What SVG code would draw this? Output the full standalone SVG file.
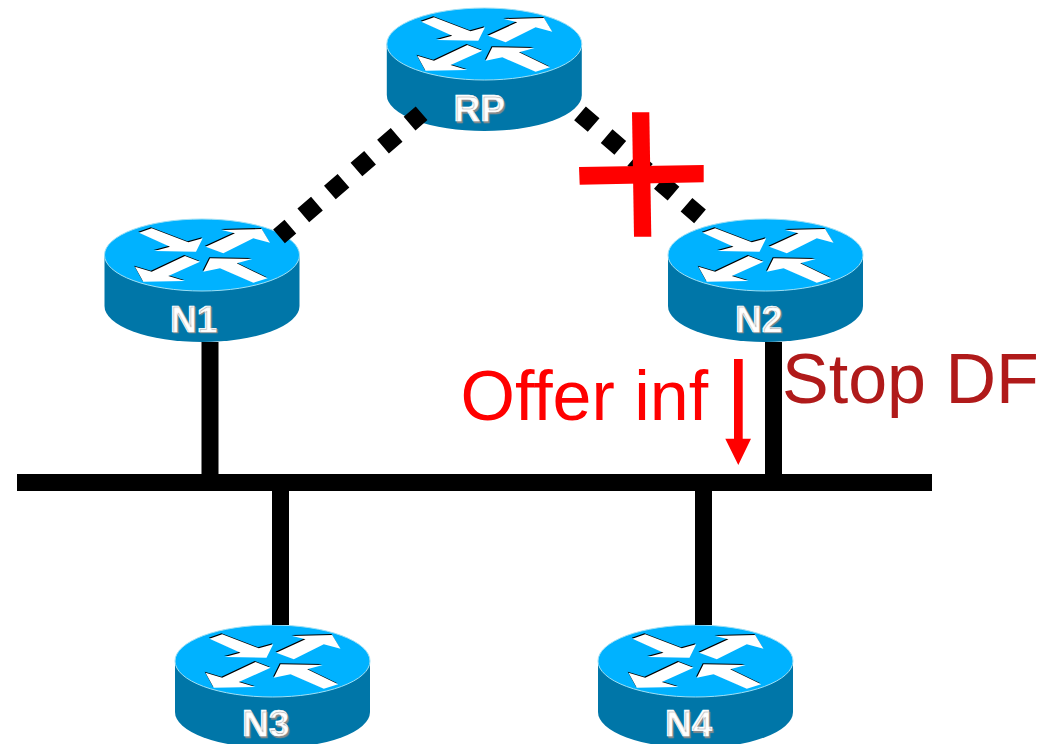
<svg xmlns="http://www.w3.org/2000/svg" xmlns:xlink="http://www.w3.org/1999/xlink" width="1055" height="744" viewBox="0 0 1055 744">
<style>
.wire{stroke:#000;stroke-width:17;fill:none}
.dash{stroke:#000;stroke-width:18;fill:none;stroke-dasharray:18 17.1}
.label{font-family:"Liberation Sans",Arial,sans-serif;font-weight:700;font-size:37px;text-anchor:middle;fill:#fff;stroke:#fff;stroke-width:.5;text-shadow:1.5px 1.5px .8px #8c8c8c}
.big{font-family:"Liberation Sans",Arial,sans-serif;font-size:70px}
</style>
<defs>
<g id="arrows">
<polygon points="-63,-22.3 -50.3,-26.7 -13.7,-12.7 .7,-16.7 -6,-3.3 -47.7,-4 -32,-8.3"/>
<polygon points="3.7,-8.3 33,-21.7 19.7,-25 59.7,-26 68,-12.3 51.3,-16.7 21.3,-1.7"/>
<polygon points="-67,11.7 -50.3,16.7 -17,1 -2,6.7 -33.7,21 -17,26 -58.7,26.7"/>
<polygon points="1.3,16.7 8,3.3 50.3,4 34.7,8.3 65.7,23.3 51.3,27.7 18,13.3"/>
</g>
<g id="router">
<path d="M-97.500,0V51A97.500,36 0 0 0 97.500,51V0Z" fill="#0076a8"/>
<ellipse cx="0" cy="0" rx="97.500" ry="36" fill="#00b2ff" stroke="#9fe0f5" stroke-width="1"/>
<use href="#arrows" x="-0.800" y="-1" fill="#000"/>
<use href="#arrows" fill="#fff"/>
</g>
</defs>
<rect width="1055" height="744" fill="#fff"/>
<g id="RP"><use href="#router" x="484.300" y="44"/><text class="label" x="479" y="121">RP</text></g>
<g id="N1"><use href="#router" x="202" y="255"/><text class="label" x="193.500" y="331.500">N1</text></g>
<g id="N2"><use href="#router" x="765.500" y="255"/><text class="label" x="758.500" y="331.500">N2</text></g>
<g id="N3"><use href="#router" x="272.500" y="661"/><text class="label" x="265.500" y="736">N3</text></g>
<g id="N4"><use href="#router" x="695.500" y="661"/><text class="label" x="688.500" y="736">N4</text></g>
<g id="connectors">
<path class="dash" style="stroke-dashoffset:3" d="M279,236.400L421.600,113.300"/>
<path class="dash" d="M580,113.300L700,216.400"/>
<path class="wire" d="M210,342V483"/>
<path class="wire" d="M773.500,342V483"/>
<path class="wire" d="M280.500,483V625"/>
<path class="wire" d="M703.500,483V625"/>
<path class="wire" d="M17,482.500H932"/>
</g>
<g id="cross" fill="#f00">
<polygon points="632,112.300 649.300,112.300 651.300,236.700 634,236.700"/>
<polygon points="579,167 703.700,165 703.700,182.300 579.700,184.700"/>
</g>
<g id="offer">
<polygon points="734,359 742.700,359 742.700,438.700 751,438.700 738.300,465 725.300,438.700 734,438.700" fill="#f00"/>
<text class="big" x="460.500" y="420" fill="#f00">Offer inf</text>
</g>
<g id="stop"><text class="big" x="782" y="403" fill="#b01a1a">Stop DF</text></g>
</svg>
